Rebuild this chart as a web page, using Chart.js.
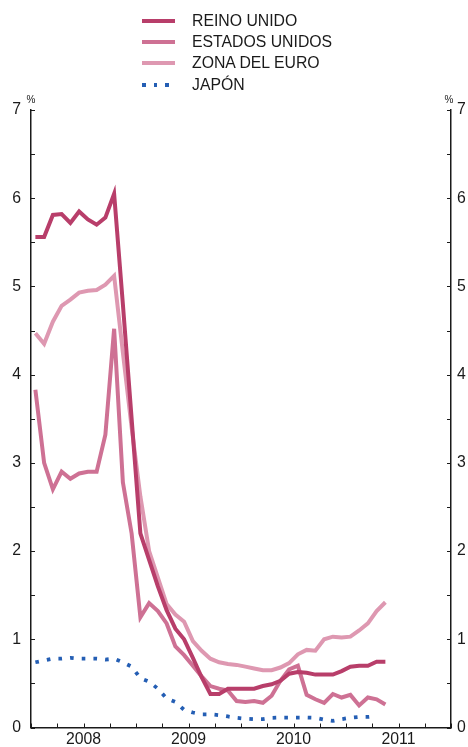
<!DOCTYPE html>
<html>
<head>
<meta charset="utf-8">
<script src="https://cdn.jsdelivr.net/npm/chart.js@4"></script>
<style>
  body { margin: 0; background: #fff; }
  #wrap { position: relative; width: 468px; height: 747px; font-family: 'Liberation Sans', Arial, sans-serif; color: #1a1a1a; }
  canvas { position: absolute; left: 0; top: 0; }
  .key { position: absolute; left: 142px; width: 33px; height: 4px; }
  .lbl { position: absolute; left: 192px; font-size: 15.8px; line-height: 20px; white-space: nowrap; }
  .pct { position: absolute; top: 94px; font-size: 10px; line-height: 12px; width: 14px; text-align: center; }
</style>
</head>
<body>
<div id="wrap">
  <canvas id="chart" width="468" height="747"></canvas>
  <div id="legend"></div>
  <div class="pct" style="left:24px">%</div>
  <div class="pct" style="left:442px">%</div>
</div>
<script>
// months plotted (one value per month, Jan 2008 onward)
const months = [
  '2008-01','2008-02','2008-03','2008-04','2008-05','2008-06','2008-07','2008-08','2008-09','2008-10','2008-11','2008-12',
  '2009-01','2009-02','2009-03','2009-04','2009-05','2009-06','2009-07','2009-08','2009-09','2009-10','2009-11','2009-12',
  '2010-01','2010-02','2010-03','2010-04','2010-05','2010-06','2010-07','2010-08','2010-09','2010-10','2010-11','2010-12',
  '2011-01','2011-02','2011-03','2011-04','2011-05'
];

const reinoUnido = [5.56, 5.56, 5.81, 5.82, 5.72, 5.85, 5.76, 5.70, 5.78, 6.05,
  4.80, 3.50, 2.20, 1.90, 1.60, 1.33, 1.12, 1.00, 0.79, 0.57,
  0.38, 0.38, 0.44, 0.44, 0.44, 0.44, 0.47, 0.49, 0.53, 0.61,
  0.63, 0.62, 0.60, 0.60, 0.60, 0.64, 0.69, 0.70, 0.70, 0.745, 0.745];

const estadosUnidos = [3.83, 3.00, 2.70, 2.90, 2.82, 2.88, 2.90, 2.90, 3.32, 4.52,
  2.78, 2.20, 1.25, 1.41, 1.32, 1.18, 0.92, 0.82, 0.70, 0.58,
  0.47, 0.44, 0.42, 0.30, 0.29, 0.30, 0.28, 0.36, 0.53, 0.66,
  0.70, 0.37, 0.32, 0.28, 0.38, 0.34, 0.37, 0.25, 0.34, 0.32, 0.26];

const zonaEuro = [4.47, 4.35, 4.60, 4.78, 4.85, 4.93, 4.95, 4.96, 5.02, 5.12,
  4.25, 3.40, 2.62, 2.00, 1.70, 1.40, 1.28, 1.20, 0.98, 0.87,
  0.78, 0.74, 0.72, 0.71, 0.69, 0.67, 0.65, 0.65, 0.68, 0.73,
  0.83, 0.88, 0.87, 1.00, 1.03, 1.02, 1.03, 1.10, 1.18, 1.32, 1.42];

const japon = [0.74, 0.76, 0.78, 0.78, 0.79, 0.78, 0.78, 0.78, 0.77, 0.78,
  0.74, 0.69, 0.56, 0.52, 0.44, 0.33, 0.29, 0.20, 0.17, 0.15,
  0.15, 0.14, 0.125, 0.11, 0.10, 0.095, 0.095, 0.11, 0.113, 0.113,
  0.113, 0.113, 0.11, 0.09, 0.075, 0.095, 0.11, 0.12, 0.12, 0.13];

const yearLabels = ['2008', '2009', '2010', '2011'];

const series = [
  { label: 'REINO UNIDO', data: reinoUnido, color: 'rgb(184,62,106)' },
  { label: 'ESTADOS UNIDOS', data: estadosUnidos, color: 'rgb(206,113,148)' },
  { label: 'ZONA DEL EURO', data: zonaEuro, color: 'rgb(222,152,177)' },
  { label: 'JAPÓN', data: japon, color: 'rgb(36,94,180)', dotted: true }
];

const axisColor = '#1a1a1a';
const tickFont = { family: "'Liberation Sans', Arial, sans-serif", size: 15.8 };

// month string -> position on x axis (months since Jan 2008, centred in the month)
function monthPos(m) {
  const [yy, mm] = m.split('-').map(Number);
  return (yy - 2008) * 12 + (mm - 1) + 0.5;
}

// HTML legend
const legendEl = document.getElementById('legend');
const rowTops = [21, 42, 63, 85];
series.forEach((s, i) => {
  const key = document.createElement('div');
  key.className = 'key';
  key.style.top = (rowTops[i] - 2) + 'px';
  key.style.background = s.dotted
    ? `repeating-linear-gradient(to right, ${s.color} 0 3.6px, transparent 3.6px 11.7px)`
    : s.color;
  legendEl.appendChild(key);
  const lbl = document.createElement('div');
  lbl.className = 'lbl';
  lbl.style.top = (rowTops[i] - 9.8) + 'px';
  lbl.textContent = s.label;
  legendEl.appendChild(lbl);
});

// small inward tick marks on all three axes
const innerTicks = {
  id: 'innerTicks',
  afterDraw(chart) {
    const { ctx, chartArea: a, scales } = chart;
    ctx.save();
    ctx.strokeStyle = axisColor;
    ctx.lineWidth = 1;
    ctx.beginPath();
    scales.x.ticks.forEach(t => {
      const px = Math.round(scales.x.getPixelForValue(t.value)) + 0.5;
      ctx.moveTo(px, a.bottom);
      ctx.lineTo(px, a.bottom - 4);
    });
    scales.y.ticks.forEach(t => {
      const py = Math.round(scales.y.getPixelForValue(t.value)) + 0.5;
      ctx.moveTo(a.left, py);
      ctx.lineTo(a.left + 4, py);
      ctx.moveTo(a.right, py);
      ctx.lineTo(a.right - 4, py);
    });
    ctx.stroke();
    ctx.restore();
  }
};

const yAxis = (position, width, pad) => ({
  position,
  min: 0,
  max: 7,
  ticks: {
    stepSize: 0.5,
    autoSkip: false,
    padding: pad,
    color: axisColor,
    font: tickFont,
    callback: v => Number.isInteger(v) ? String(v) : ''
  },
  grid: { display: false, drawTicks: false },
  border: { display: true, color: axisColor, width: 1.5 },
  afterFit: s => { s.width = width; }
});

new Chart(document.getElementById('chart'), {
  type: 'line',
  data: {
    datasets: series.map(s => ({
      label: s.label,
      data: s.data.map((v, i) => ({ x: monthPos(months[i]), y: v })),
      borderColor: s.color,
      backgroundColor: s.color,
      borderWidth: s.dotted ? 3.8 : 4,
      borderDash: s.dotted ? [3.6, 8.1] : [],
      borderCapStyle: 'butt',
      borderJoinStyle: 'miter',
      pointRadius: 0,
      tension: 0,
      fill: false
    }))
  },
  options: {
    responsive: false,
    animation: false,
    layout: { padding: { top: 110, left: 0, right: 0, bottom: 0 } },
    plugins: { legend: { display: false }, tooltip: { enabled: false } },
    scales: {
      x: {
        type: 'linear',
        min: 0,
        max: 48,
        ticks: {
          stepSize: 3,
          autoSkip: false,
          maxRotation: 0,
          padding: 3,
          color: axisColor,
          font: tickFont,
          callback: v => (v % 12 === 6) ? yearLabels[(v - 6) / 12] : ''
        },
        grid: { display: false, drawTicks: false },
        border: { display: true, color: axisColor, width: 1.5 },
        afterFit: s => { s.height = 17; }
      },
      y: yAxis('left', 31, 10),
      y2: yAxis('right', 17, 6)
    }
  },
  plugins: [innerTicks]
});
</script>
</body>
</html>
